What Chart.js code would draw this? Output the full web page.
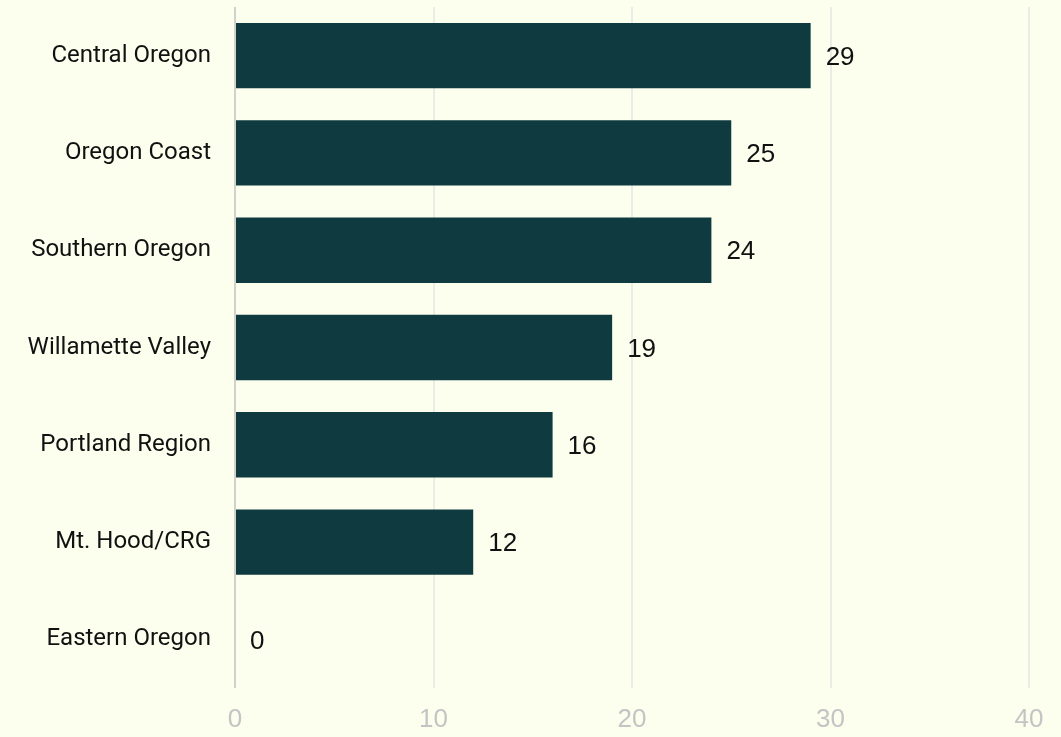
<!DOCTYPE html>
<html>
<head>
<meta charset="utf-8">
<script src="https://cdn.jsdelivr.net/npm/chart.js@4"></script>
<style>
  html, body { margin: 0; padding: 0; background: #fcffee; }
  #wrap { width: 1061px; height: 737px; }
</style>
</head>
<body>
<div id="wrap"><canvas id="regionChart"></canvas></div>
<script>
  // Regions and counts
  const regions = ['Central Oregon', 'Oregon Coast', 'Southern Oregon', 'Willamette Valley', 'Portland Region', 'Mt. Hood/CRG', 'Eastern Oregon'];
  const counts = [29, 25, 24, 19, 16, 12, 0];
  const xTicks = [0, 10, 20, 30, 40];

  // simple value labels at the end of each bar
  const valueLabels = {
    id: 'valueLabels',
    afterDatasetsDraw(chart) {
      const ctx = chart.ctx;
      const meta = chart.getDatasetMeta(0);
      ctx.save();
      ctx.font = '26px "Liberation Sans", Arial, sans-serif';
      ctx.fillStyle = '#111';
      ctx.textAlign = 'left';
      ctx.textBaseline = 'middle';
      meta.data.forEach((bar, i) => {
        ctx.fillText(String(counts[i]), bar.x + 15, bar.y + 2);
      });
      ctx.restore();
    }
  };

  new Chart(document.getElementById('regionChart'), {
    type: 'bar',
    data: {
      labels: regions,
      datasets: [{
        data: counts,
        backgroundColor: '#0e3a40',
        categoryPercentage: 0.8,
        barPercentage: 0.84
      }]
    },
    options: {
      indexAxis: 'y',
      responsive: true,
      maintainAspectRatio: false,
      animation: false,
      layout: { padding: { top: 7, right: 32, left: 0, bottom: 0 } },
      plugins: {
        legend: { display: false },
        tooltip: { enabled: false }
      },
      scales: {
        x: {
          min: 0,
          max: 40,
          afterBuildTicks: (scale) => { scale.ticks = xTicks.map(v => ({ value: v })); },
          afterFit: (scale) => { scale.height = 49; },
          border: { display: false },
          grid: {
            drawTicks: false,
            lineWidth: 2,
            color: (c) => c.tick && c.tick.value === 0 ? '#d2d2cc' : '#ececE6'
          },
          ticks: {
            color: '#c4c4c4',
            padding: 16,
            font: { family: '"Liberation Sans", Arial, sans-serif', size: 26 }
          }
        },
        y: {
          afterFit: (scale) => {
            scale.width = 235;
            scale.paddingTop = 0;
            scale.paddingBottom = 0;
          },
          border: { display: false },
          grid: { display: false, drawTicks: false },
          ticks: {
            color: '#111',
            padding: 24,
            font: { family: 'Roboto, sans-serif', size: 24 }
          }
        }
      }
    },
    plugins: [valueLabels]
  });
</script>
</body>
</html>
